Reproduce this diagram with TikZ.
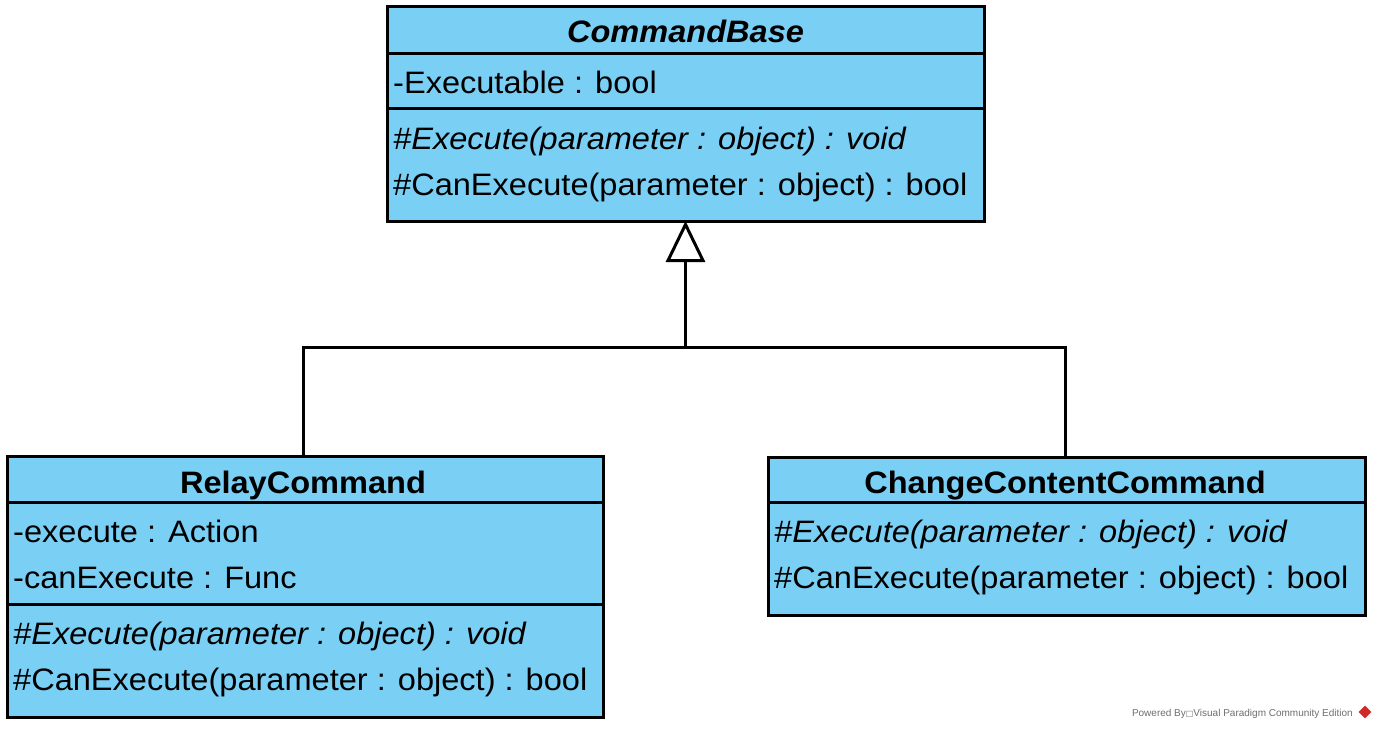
\documentclass[tikz,border=0pt]{standalone}
\usepackage{fontspec}
\setmainfont{Liberation Sans}[FakeStretch=1.05]
\newfontfamily\symfont{DejaVu Sans}
\newfontfamily\wmfont{Liberation Sans}
\usetikzlibrary{arrows.meta}
\definecolor{classfill}{RGB}{122,207,245}
\definecolor{wmgray}{RGB}{110,110,110}
\definecolor{logored}{RGB}{210,40,40}
\begin{document}
\begin{tikzpicture}[x=1pt,y=-1pt,
  sect/.style={draw=black, line width=3pt, fill=classfill, anchor=north west, inner sep=0pt, outer sep=0pt},
  txt/.style={anchor=base west, inner sep=0pt, font=\fontsize{31}{37}\selectfont},
  ttl/.style={anchor=base, inner sep=0pt, font=\fontsize{31}{37}\selectfont\bfseries},
  conn/.style={line width=3pt},
  gen/.style={line width=3pt, -{Triangle[length=41pt, width=39pt, fill=white]}}]
\useasboundingbox[fill=white] (0,0) rectangle (1377,729);

% CommandBase
\node[sect, minimum width=597pt, minimum height=47pt] (cbT) at (387,6) {};
\node[sect, minimum width=597pt, minimum height=55pt] (cbA) at (387,53) {};
\node[sect, minimum width=597pt, minimum height=113pt] (cbM) at (387,108) {};
\node[ttl, font=\fontsize{31}{37}\selectfont\bfseries\itshape] (cbName) at (685.5,42) {CommandBase};
\node[txt] (cbA1) at (393,93) {-Executable : bool};
\node[txt, font=\fontsize{31}{37}\selectfont\itshape] (cbM1) at (393,149) {\#Execute(parameter : object) : void};
\node[txt] (cbM2) at (393,195) {\#CanExecute(parameter : object) : bool};

% RelayCommand
\node[sect, minimum width=596pt, minimum height=46pt] (rcT) at (7,456) {};
\node[sect, minimum width=596pt, minimum height=102pt] (rcA) at (7,502) {};
\node[sect, minimum width=596pt, minimum height=113pt] (rcM) at (7,604) {};
\node[ttl] (rcName) at (303,493) {RelayCommand};
\node[txt] (rcA1) at (13,542) {-execute : Action};
\node[txt] (rcA2) at (13,588) {-canExecute : Func};
\node[txt, font=\fontsize{31}{37}\selectfont\itshape] (rcM1) at (13,644) {\#Execute(parameter : object) : void};
\node[txt] (rcM2) at (13,690) {\#CanExecute(parameter : object) : bool};

% ChangeContentCommand
\node[sect, minimum width=597pt, minimum height=45pt] (ccT) at (768,457) {};
\node[sect, minimum width=597pt, minimum height=113pt] (ccM) at (768,502) {};
\node[ttl] (ccName) at (1065,493) {ChangeContentCommand};
\node[txt, font=\fontsize{31}{37}\selectfont\itshape] (ccM1) at (774,542) {\#Execute(parameter : object) : void};
\node[txt] (ccM2) at (774,588) {\#CanExecute(parameter : object) : bool};

% generalization
\coordinate (j0) at (cbM.south |- 0,347);
\coordinate (j1) at (303,347);
\coordinate (j2) at (1065,347);
\draw[conn] (j1 |- rcT.north) -- (j1) -- (j2) -- (j2 |- ccT.north);
\draw[gen] (j0) -- (cbM.south);

% watermark
\node[anchor=base east, inner sep=0pt, text=wmgray, font=\wmfont\fontsize{10}{12}\selectfont] (wm) at (1353,716) {Powered By{\symfont\fontsize{8}{10}\selectfont □}Visual Paradigm Community Edition};
\node[fill=logored, rotate=45, minimum size=9pt, inner sep=0pt] (logo) at (1365,712) {};
\end{tikzpicture}
\end{document}
